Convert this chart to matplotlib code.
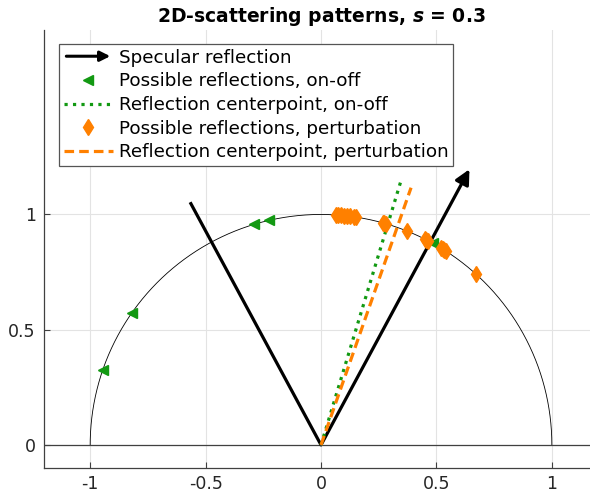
import numpy as np
import matplotlib

matplotlib.use("Agg")
import matplotlib.pyplot as plt
from matplotlib.legend_handler import HandlerBase
from matplotlib.patches import FancyArrowPatch

S = 0.3

# incoming ray end and specular reflection tip (unit-circle coords)
INCIDENT_END = (-0.567, 1.053)
SPECULAR_TIP = (0.643, 1.196)

# centerpoint directions for the two roughness models
CENTER_ONOFF = (0.346, 1.145)
CENTER_PERT = (0.390, 1.116)

# possible reflection directions, angle in degrees from +x
ONOFF_DEG = [161.0, 145.0, 106.9, 103.0, 61.0]
PERT_DEG = [86.2, 85.7, 85.0, 84.3, 83.5, 82.8, 81.8, 81.3,
            74.5, 74.1, 73.6, 68.0, 63.3, 62.9, 62.4,
            58.6, 58.2, 57.7, 57.2, 47.9]

GREEN = "#129912"
ORANGE = "#ff8000"
AXCOL = "#404040"


class ArrowHandler(HandlerBase):
    def create_artists(self, legend, orig_handle, xdescent, ydescent,
                       width, height, fontsize, trans):
        y = height / 2 - ydescent
        arr = FancyArrowPatch((-xdescent, y), (-xdescent + width, y),
                              arrowstyle="-|>", mutation_scale=15,
                              lw=2.2, color="k", transform=trans)
        return [arr]


fig = plt.figure(figsize=(5.9, 4.94), dpi=100)
ax = fig.add_axes([0.0746, 0.0526, 0.939, 0.8866])
ax.set_xlim(-1.2, 1.2)
ax.set_ylim(-0.1, 1.8)

ax.grid(True, color="#e3e3e3", lw=0.8)
ax.set_axisbelow(True)

# half circle and the surface line
th = np.linspace(0, np.pi, 400)
ax.plot(np.cos(th), np.sin(th), color="k", lw=0.6)
ax.axhline(0, color=AXCOL, lw=0.9)

# incoming ray
ax.plot([INCIDENT_END[0], 0], [INCIDENT_END[1], 0], color="k", lw=2.3,
        solid_capstyle="butt")

spec = FancyArrowPatch((0, 0), SPECULAR_TIP, arrowstyle="-|>",
                       mutation_scale=22, lw=2.3, color="k",
                       shrinkA=0, shrinkB=0, label="Specular reflection")
ax.add_patch(spec)

a = np.deg2rad(ONOFF_DEG)
ax.plot(np.cos(a), np.sin(a), "<", color=GREEN, ms=7, mec=GREEN,
        label="Possible reflections, on-off")
ax.plot([0, CENTER_ONOFF[0]], [0, CENTER_ONOFF[1]], ":", color=GREEN,
        lw=2.3, label="Reflection centerpoint, on-off")

p = np.deg2rad(PERT_DEG)
ax.plot(np.cos(p), np.sin(p), "d", color=ORANGE, ms=8, mec=ORANGE,
        label="Possible reflections, perturbation")
ax.plot([0, CENTER_PERT[0]], [0, CENTER_PERT[1]], "--", color=ORANGE,
        lw=2.3, dashes=(3, 1.6),
        label="Reflection centerpoint, perturbation")

ax.set_xticks([-1, -0.5, 0, 0.5, 1])
ax.set_xticklabels(["-1", "-0.5", "0", "0.5", "1"])
ax.set_yticks([0, 0.5, 1])
ax.set_yticklabels(["0", "0.5", "1"])
ax.tick_params(direction="in", length=4, colors=AXCOL, labelcolor="#262626",
               labelsize=12.5)
ax.tick_params(axis="x", pad=5)
ax.tick_params(axis="y", pad=6)
for side in ("top", "right"):
    ax.spines[side].set_visible(False)
for side in ("left", "bottom"):
    ax.spines[side].set_color(AXCOL)
    ax.spines[side].set_linewidth(0.9)

ax.set_title(rf"2D-scattering patterns, $\mathbfit{{s}}$ = {S}",
             fontsize=13.5, fontweight="bold", pad=6)

leg = ax.legend(loc="upper left", bbox_to_anchor=(0.027, 0.968),
                borderaxespad=0, fontsize=13.2, handlelength=2.7,
                handletextpad=0.3, labelspacing=0.31, borderpad=0.25,
                fancybox=False, framealpha=1, edgecolor="#555555",
                handler_map={FancyArrowPatch: ArrowHandler()})
leg.get_frame().set_linewidth(0.9)

fig.savefig("out.png", dpi=100)
